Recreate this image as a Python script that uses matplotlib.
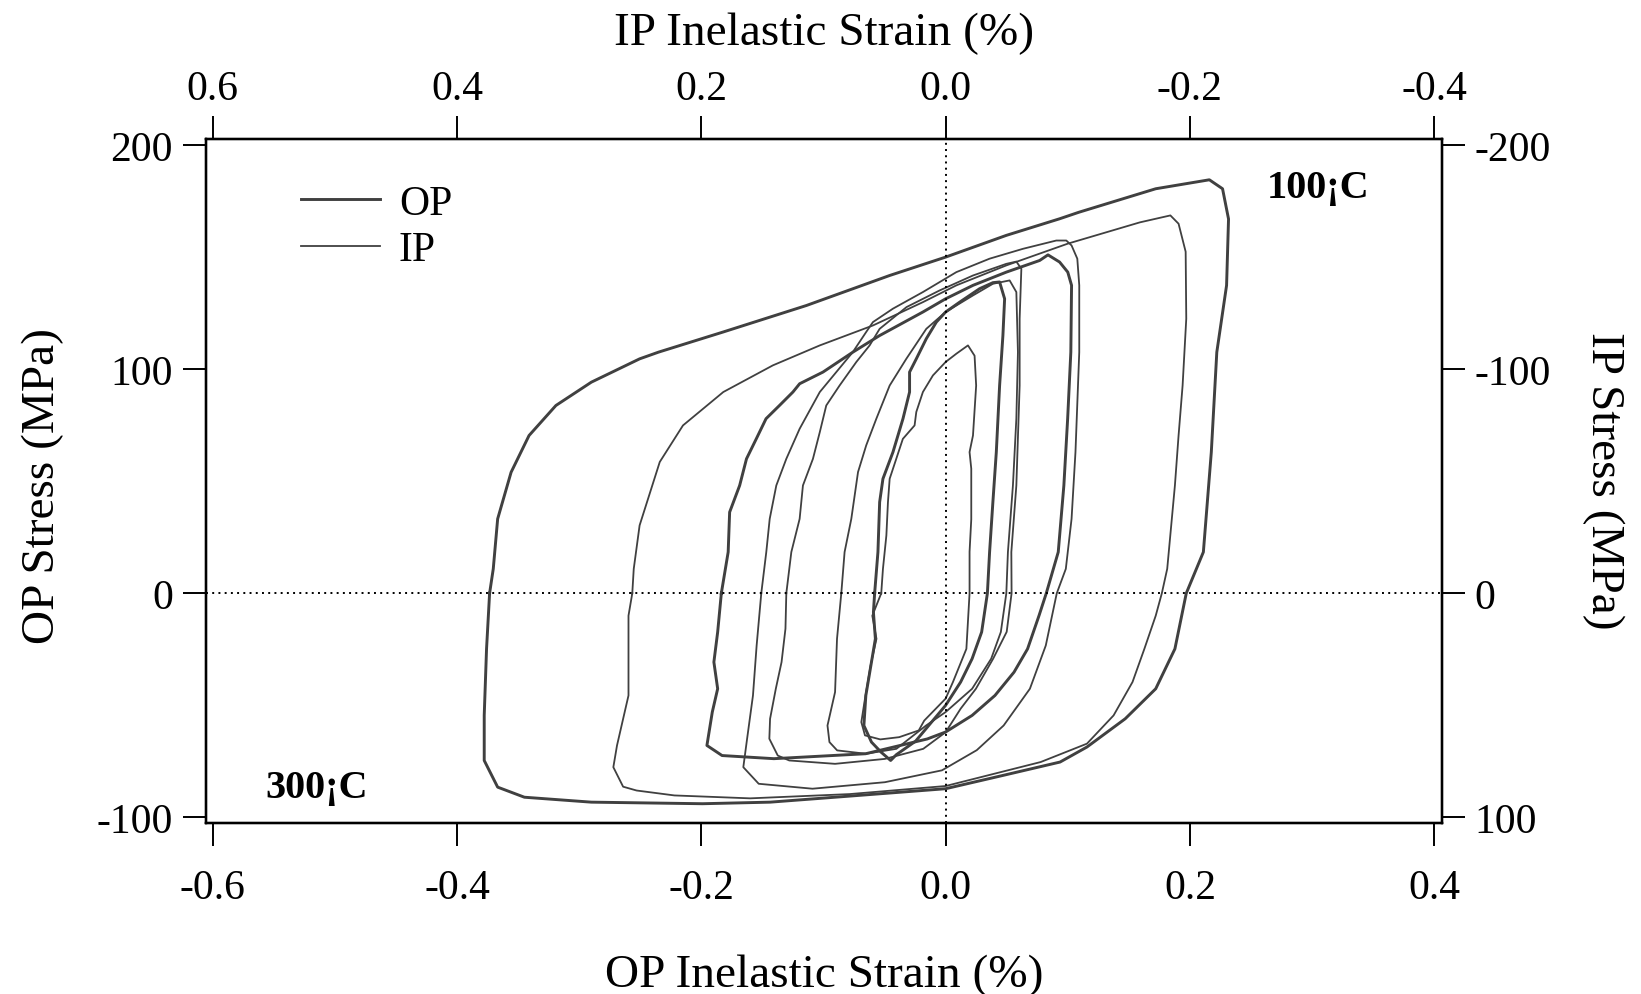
import matplotlib
matplotlib.use("Agg")
import matplotlib.pyplot as plt

plt.rcParams['font.family'] = ['Liberation Serif', 'DejaVu Serif']
plt.rcParams['axes.unicode_minus'] = False

# hysteresis loops, strain (%) and stress (MPa)
# OP loops (thick)
op_big_x = [-0.3733, -0.3703, -0.3667, -0.3557, -0.341, -0.319, -0.29, -0.2505, -0.235, -0.182,
            -0.114, -0.0458, 0.0, 0.0497, 0.0933, 0.109, 0.172, 0.2159, 0.2267, 0.2316,
            0.23, 0.222, 0.2175, 0.211, 0.197, 0.1877, 0.172, 0.147, 0.1157, 0.0937,
            0.0467, 0.0, -0.0786, -0.1437, -0.199, -0.29, -0.3448, -0.3667, -0.3777, -0.3777,
            -0.3758, -0.3733]
op_big_y = [0, 10.9, 33.2, 54, 70.4, 83.8, 94.2, 104.6, 107.6, 116.6,
            128.4, 141.8, 150, 159.7, 167.1, 170, 180.5, 184.5, 180.5, 167,
            137.4, 107.6, 63, 18.4, 0, -24.8, -42.6, -56, -68.6, -75.3,
            -81.3, -87.2, -90.5, -93.2, -93.9, -93.2, -91, -86.5, -74.6, -54.5,
            -24.8, 0]

op_mid_x = [-0.1836, -0.178, -0.1768, -0.1686, -0.163, -0.155, -0.147, -0.136, -0.125, -0.1195,
            -0.1004, -0.0759, -0.054, -0.0186, 0.0, 0.0224, 0.0497, 0.077, 0.0838, 0.0933,
            0.1, 0.1031, 0.1025, 0.0999, 0.0968, 0.0922, 0.0824, 0.0765, 0.0671, 0.056,
            0.0404, 0.0217, 0.0, -0.015, -0.0655, -0.1406, -0.183, -0.1954, -0.191, -0.1866,
            -0.1897, -0.1866, -0.1836]
op_mid_y = [0, 18.4, 36.2, 48.1, 60, 68.9, 77.9, 83.8, 89.8, 93.5,
            98.7, 107.6, 115, 125.5, 131.4, 137.4, 143.3, 148.5, 151, 147.8,
            143.3, 137.4, 107.6, 77.9, 48.1, 18.4, 0, -9.9, -24.8, -35.2,
            -45.6, -54.5, -61.9, -65, -71.6, -73.8, -72.4, -67.9, -53, -42.6,
            -30.7, -17.3, 0]

op_small_x = [-0.0581, -0.0554, -0.054, -0.0513, -0.0431, -0.0349, -0.0295, -0.0295, -0.024, -0.0158,
              -0.0076, 0.0, 0.0115, 0.0278, 0.0387, 0.0442, 0.0483, 0.0469, 0.0442, 0.0415,
              0.0387, 0.036, 0.0342, 0.0295, 0.0217, 0.0123, 0.0, -0.0246, -0.0403, -0.045,
              -0.0528, -0.0607, -0.0669, -0.0653, -0.0607, -0.0575, -0.0591, -0.0581]
op_small_y = [0, 18.4, 40.7, 51.1, 63, 77.9, 89.8, 98.7, 104.6, 113.6,
              121, 125.5, 129.9, 135.9, 138.6, 138.9, 131.4, 115, 92.7, 63,
              40.7, 18.4, 0, -17.3, -29.2, -39.6, -50, -66, -72, -74.6,
              -70.9, -66.4, -59, -45.6, -30.7, -20.3, -8.4, 0]

# IP loops (thin)
ip_big_x = [-0.2565, -0.2553, -0.2505, -0.234, -0.215, -0.182, -0.1414, -0.103, -0.0595, -0.0186,
            0.0088, 0.0497, 0.1, 0.159, 0.184, 0.1907, 0.1965, 0.197, 0.194, 0.1907,
            0.1877, 0.1814, 0.177, 0.172, 0.1627, 0.153, 0.1375, 0.1157, 0.0778, 0.0,
            -0.0786, -0.16, -0.222, -0.253, -0.264, -0.272, -0.269, -0.2596, -0.2596, -0.2565]
ip_big_y = [0, 10.9, 30.3, 58.6, 74.9, 89.8, 101.7, 110.6, 119.5, 129.9,
            137.4, 146.3, 156, 165.5, 168.6, 164.9, 152.4, 122.5, 92.7, 70.4,
            48.1, 10.9, 0, -10, -24.8, -39.6, -54.5, -67.1, -75.3, -86,
            -89.6, -91.5, -90.2, -88, -86.3, -77.6, -67.9, -45.6, -10, 0]

ip_mid_x = [-0.1509, -0.1468, -0.144, -0.1386, -0.1304, -0.1195, -0.103, -0.0895, -0.076, -0.065,
            -0.0595, -0.0431, -0.0186, 0.0088, 0.036, 0.0633, 0.0906, 0.0988, 0.1031, 0.1078,
            0.1094, 0.1094, 0.1063, 0.1031, 0.0984, 0.091, 0.082, 0.069, 0.0475, 0.0255,
            -0.003, -0.0497, -0.109, -0.153, -0.1656, -0.1625, -0.1577, -0.1547, -0.1509]
ip_mid_y = [0, 18.4, 33.2, 48.1, 60, 73.4, 89.8, 98.7, 107.6, 116.6,
            121, 127, 134.4, 143.3, 149.3, 153.7, 157.4, 157.4, 155.2, 149.3,
            137.4, 107.6, 63, 33.2, 10.9, 0, -23.3, -42.6, -59, -70,
            -79, -84.3, -87.2, -85, -77.6, -64.9, -45.6, -23.3, 0]

ip_mid2_x = [-0.1304, -0.1263, -0.1195, -0.1168, -0.1086, -0.103, -0.0977, -0.0868, -0.0731, -0.0622,
             -0.054, -0.032, -0.005, 0.0224, 0.0497, 0.0579, 0.062, 0.0606, 0.0606, 0.0579,
             0.0538, 0.054, 0.05, 0.0389, 0.0248, 0.0123, 0.0, -0.0183, -0.0497, -0.0905,
             -0.128, -0.1374, -0.1443, -0.1437, -0.139, -0.1343, -0.1311, -0.1304]
ip_mid2_y = [0, 18.4, 33.2, 48.1, 60, 71.9, 83.8, 92.7, 103.2, 110.6,
             118, 127.7, 135.1, 141.8, 147, 148, 144.8, 122.5, 92.7, 48.1,
             18.4, 0, -17.2, -29.2, -42.6, -51.5, -62, -69.4, -73.9, -76.1,
             -74.6, -72.4, -64.9, -56, -42.6, -30.7, -15.8, 0]

ip_small_x = [-0.0854, -0.0827, -0.0772, -0.0717, -0.065, -0.0567, -0.0458, -0.0322, -0.0158, 0.0,
              0.0224, 0.0387, 0.0524, 0.0579, 0.0592, 0.0579, 0.0551, 0.051, 0.0497, 0.0452,
              0.0373, 0.0217, 0.0, -0.016, -0.0403, -0.0653, -0.0888, -0.0951, -0.0967, -0.0905,
              -0.0889, -0.0854]
ip_small_y = [0, 18.4, 33.2, 54.1, 66, 77.9, 92.7, 104.6, 118, 125.5,
              132.9, 138.1, 139.6, 134.4, 107.6, 77.9, 48.1, 18.4, 0, -17.3,
              -29.2, -42.6, -53, -59, -69.4, -71.6, -70.1, -66.4, -59, -44.1,
              -20.3, 0]

ip_tiny_x = [-0.0527, -0.0513, -0.0485, -0.0472, -0.0458, -0.0404, -0.035, -0.0254, -0.024, -0.0186,
             -0.0104, 0.0, 0.0088, 0.0183, 0.0237, 0.025, 0.0224, 0.0196, 0.021, 0.021,
             0.0196, 0.0196, 0.017, 0.006, 0.0, -0.0175, -0.022, -0.038, -0.0535, -0.066,
             -0.069, -0.066, -0.0614, -0.0566, -0.06, -0.0527]
ip_tiny_y = [0, 10.9, 25.8, 40.7, 51.1, 60, 68.9, 74.9, 80.9, 89.8,
             97.2, 103.2, 106.9, 110.6, 106, 92.7, 70.4, 63, 55.6, 33,
             18.5, 0, -24.8, -39.6, -47, -56.8, -61.2, -64.2, -65.2, -63.4,
             -57.5, -47, -32.2, -20.3, -10, 0]

op_loops = [(op_big_x, op_big_y), (op_mid_x, op_mid_y), (op_small_x, op_small_y)]
ip_loops = [(ip_big_x, ip_big_y), (ip_mid_x, ip_mid_y), (ip_mid2_x, ip_mid2_y),
            (ip_small_x, ip_small_y), (ip_tiny_x, ip_tiny_y)]

op_strain_ticks = [-0.6, -0.4, -0.2, 0.0, 0.2, 0.4]
ip_strain_ticks = [0.6, 0.4, 0.2, 0.0, -0.2, -0.4]
op_stress_ticks = [-100, 0, 100, 200]
ip_stress_ticks = [100, 0, -100, -200]

line_col = '#404040'
xlo, xhi = -0.6057, 0.4061
ylo, yhi = -102.5, 202.7

fig = plt.figure(figsize=(16.41, 9.95), dpi=100)
ax = fig.add_axes([205.7 / 1641, 1 - 824 / 995, 1236 / 1641, 684 / 995])

for x, y in ip_loops:
    ax.plot(x, y, color=line_col, lw=1.3, solid_joinstyle='round')
for x, y in op_loops:
    ax.plot(x, y, color=line_col, lw=2.1, solid_joinstyle='round')

ax.axhline(0, color='black', lw=1.4, ls=(0, (1, 2.2)))
ax.axvline(0, color='black', lw=1.4, ls=(0, (1, 2.2)))

ax.set_xlim(xlo, xhi)
ax.set_ylim(ylo, yhi)
ax.set_xticks(op_strain_ticks)
ax.set_xticklabels([f"{v:.1f}" for v in op_strain_ticks])
ax.set_yticks(op_stress_ticks)
ax.set_yticklabels([str(v) for v in op_stress_ticks])
ax.tick_params(axis='x', direction='out', length=16.5, width=1.4, labelsize=30, pad=16)
ax.tick_params(axis='y', direction='out', length=16.5, width=1.4, labelsize=30, pad=7)

# top axis: IP strain (reversed)
axt = ax.twiny()
axt.set_xlim(-xlo, -xhi)
axt.set_xticks(ip_strain_ticks)
axt.set_xticklabels([f"{v:.1f}" for v in ip_strain_ticks])
axt.tick_params(axis='x', direction='out', length=16.5, width=1.4, labelsize=30, pad=6)

# right axis: IP stress (reversed)
axr = ax.twinx()
axr.set_ylim(-ylo, -yhi)
axr.set_yticks(ip_stress_ticks)
axr.set_yticklabels([str(v) for v in ip_stress_ticks])
axr.tick_params(axis='y', direction='out', length=16.5, width=1.4, labelsize=30, pad=7)

for a in (ax, axt, axr):
    for s in a.spines.values():
        s.set_linewidth(1.6)

fig.text(824 / 1641, 1 - 976 / 995, 'OP Inelastic Strain (%)', fontsize=34, ha='center', va='center')
fig.text(824 / 1641, 1 - 34 / 995, 'IP Inelastic Strain (%)', fontsize=34, ha='center', va='center')
fig.text(43 / 1641, 1 - 486 / 995, 'OP Stress (MPa)', fontsize=34, ha='center', va='center', rotation=90)
fig.text(1603 / 1641, 1 - 481 / 995, 'IP Stress (MPa)', fontsize=34, ha='center', va='center', rotation=270)

ax.text(0.900, 0.915, '100¡C', transform=ax.transAxes, fontsize=29, fontweight='bold',
        ha='center', va='baseline')
ax.text(0.090, 0.038, '300¡C', transform=ax.transAxes, fontsize=29, fontweight='bold',
        ha='center', va='baseline')

h_op, = ax.plot([], [], color=line_col, lw=2.1)
h_ip, = ax.plot([], [], color=line_col, lw=1.3)
ax.legend([h_op, h_ip], ['OP', 'IP'], loc='upper left', bbox_to_anchor=(0.077, 0.934),
          frameon=False, fontsize=30, handlelength=1.9, handletextpad=0.45,
          borderpad=0, borderaxespad=0, labelspacing=0.2)

fig.savefig('out.png', dpi=100)
